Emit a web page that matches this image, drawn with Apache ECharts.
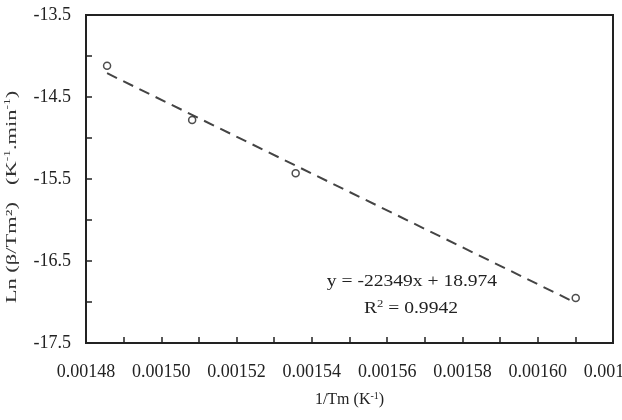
<!DOCTYPE html>
<html>
<head>
<meta charset="utf-8">
<script src="https://cdn.jsdelivr.net/npm/echarts@6/dist/echarts.min.js"></script>
<style>
  html, body { margin: 0; padding: 0; background: #fff; }
  #chart { width: 622px; height: 420px; }
</style>
</head>
<body>
<div id="chart"></div>
<script>
// measured points: 1/Tm vs Ln(beta/Tm^2)
const invTm = [0.0014856, 0.0015082, 0.0015357, 0.0016101]
const lnBeta = [-14.12, -14.78, -15.43, -16.95]

// linear trend line, ends
const trendX = [0.0014856, 0.0016101]
const trendY = [-14.21, -17.01]

const xMin = 0.00148
const xMax = 0.00162
const xStep = 0.00001
const yMin = -17.5
const yMax = -13.5
const yStep = 0.5

const FONT = '"Liberation Serif", "Times New Roman", serif'
const INK = '#222'

function supRich(size, color) {
  return {
    n: { fontFamily: FONT, fontSize: size, color: color, fill: color },
    s: { fontFamily: FONT, fontSize: Math.round(size * 0.62), color: color, fill: color,
         padding: [0, 0, Math.round(size * 0.5), 0] },
  }
}

const chart = echarts.init(document.getElementById('chart'), null, { renderer: 'canvas' })

chart.setOption({
  animation: false,
  backgroundColor: '#fff',
  grid: {
    left: 86,
    top: 15,
    right: 9,
    bottom: 77,
    outerBoundsMode: 'none',
    containLabel: false,
    show: true,
    borderColor: INK,
    borderWidth: 2,
  },
  xAxis: {
    type: 'value',
    min: xMin,
    max: xMax,
    interval: xStep,
    name: '{n|1/Tm (K}{s|-1}{n|)}',
    nameLocation: 'middle',
    nameGap: 48,
    nameTextStyle: { rich: supRich(16, INK) },
    axisLine: { lineStyle: { color: INK, width: 2 } },
    axisTick: { inside: true, length: 6, lineStyle: { color: INK, width: 1.5 } },
    splitLine: { show: false },
    axisLabel: {
      fontFamily: FONT,
      fontSize: 18,
      color: INK,
      margin: 20,
      formatter: v => {
        const k = Math.round((v - xMin) / xStep)
        return k % 2 === 0 ? v.toFixed(5) : ''
      },
    },
  },
  yAxis: {
    type: 'value',
    min: yMin,
    max: yMax,
    interval: yStep,
    axisLine: { lineStyle: { color: INK, width: 2 } },
    axisTick: { inside: true, length: 6, lineStyle: { color: INK, width: 1.5 } },
    splitLine: { show: false },
    axisLabel: {
      fontFamily: FONT,
      fontSize: 18,
      color: INK,
      margin: 15,
      formatter: v => {
        const k = Math.round((v - yMin) / yStep)
        return k % 2 === 0 ? v.toFixed(1) : ''
      },
    },
  },
  graphic: [
    {
      // y axis title, stretched along its length like the source
      type: 'text',
      x: 12,
      y: 197,
      rotation: Math.PI / 2,
      scaleX: 1.5,
      style: {
        text: '{n|Ln (β/Tm²)   (K}{s|-1}{n|.min}{s|-1}{n|)}',
        rich: supRich(15, '#333'),
        align: 'center',
        verticalAlign: 'middle',
      },
    },
    {
      type: 'text',
      x: 412,
      y: 282,
      scaleX: 1.15,
      style: {
        text: 'y = -22349x + 18.974',
        fontFamily: FONT,
        fontSize: 17,
        fill: INK,
        align: 'center',
        verticalAlign: 'middle',
      },
    },
    {
      type: 'text',
      x: 411,
      y: 309,
      scaleX: 1.15,
      style: {
        text: '{n|R}{s|2}{n| = 0.9942}',
        rich: supRich(17, INK),
        align: 'center',
        verticalAlign: 'middle',
      },
    },
  ],
  series: [
    {
      type: 'line',
      data: trendX.map((x, i) => [x, trendY[i]]),
      symbol: 'none',
      silent: true,
      lineStyle: { color: '#444', width: 2, type: [11, 7] },
      z: 2,
    },
    {
      type: 'scatter',
      data: invTm.map((x, i) => [x, lnBeta[i]]),
      symbol: 'circle',
      symbolSize: 7,
      itemStyle: { color: '#fff', borderColor: INK, borderWidth: 1.5 },
      z: 3,
    },
  ],
})
</script>
</body>
</html>
